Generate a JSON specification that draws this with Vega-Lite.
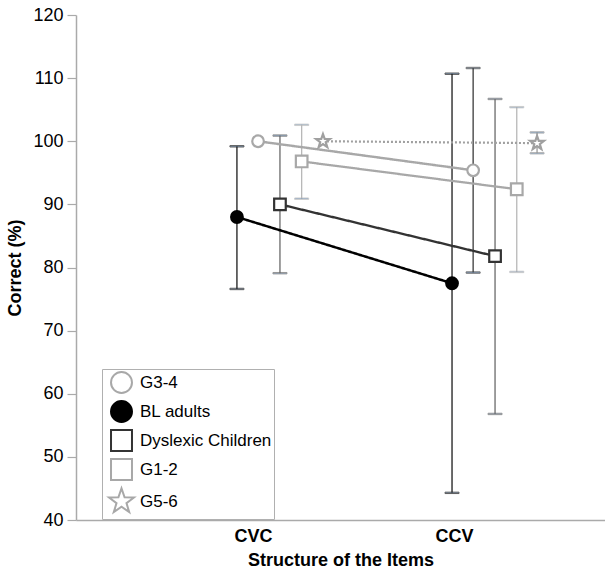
{
  "$schema": "https://vega.github.io/schema/vega-lite/v6.json",
  "width": 529,
  "height": 505,
  "autosize": {"type": "none"},
  "padding": {"left": 76, "top": 15, "right": 0, "bottom": 49},
  "background": "white",
  "config": {
    "font": "Liberation Sans",
    "view": {"stroke": null}
  },
  "data": {
    "values": [
      {"series": "BL adults", "structure": "CVC", "pos": 0.920, "mean": 88.0, "lo": 76.6, "hi": 99.2},
      {"series": "BL adults", "structure": "CCV", "pos": 1.990, "mean": 77.5, "lo": 44.3, "hi": 110.7},
      {"series": "G3-4", "structure": "CVC", "pos": 1.025, "mean": 100.0, "lo": null, "hi": null},
      {"series": "G3-4", "structure": "CCV", "pos": 2.095, "mean": 95.4, "lo": 79.2, "hi": 111.6},
      {"series": "Dyslexic Children", "structure": "CVC", "pos": 1.134, "mean": 90.0, "lo": 79.1, "hi": 100.9},
      {"series": "Dyslexic Children", "structure": "CCV", "pos": 2.204, "mean": 81.8, "lo": 56.8, "hi": 106.7},
      {"series": "G1-2", "structure": "CVC", "pos": 1.242, "mean": 96.8, "lo": 90.9, "hi": 102.6},
      {"series": "G1-2", "structure": "CCV", "pos": 2.312, "mean": 92.4, "lo": 79.3, "hi": 105.4},
      {"series": "G5-6", "structure": "CVC", "pos": 1.348, "mean": 100.0, "lo": null, "hi": null},
      {"series": "G5-6", "structure": "CCV", "pos": 2.413, "mean": 99.7, "lo": 98.1, "hi": 101.4}
    ]
  },
  "layer": [
    {
      "mark": {"type": "rule", "strokeWidth": 1.3},
      "encoding": {
        "x": {
          "field": "pos", "type": "quantitative",
          "scale": {"domain": [0.1194, 2.751], "nice": false, "zero": false},
          "axis": {
            "values": [1, 2],
            "labelExpr": "datum.value === 1 ? 'CVC' : 'CCV'",
            "ticks": false,
            "grid": false,
            "domainColor": "#aaaaaa",
            "domainWidth": 1.5,
            "labelFont": "Liberation Sans",
            "labelFontSize": 18,
            "labelFontWeight": "bold",
            "labelColor": "#000000",
            "labelPadding": 7,
            "title": "Structure of the Items",
            "titleFont": "Liberation Sans",
            "titleFontSize": 18,
            "titleFontWeight": "bold",
            "titleColor": "#000000",
            "titlePadding": 6
          }
        },
        "y": {
          "field": "lo", "type": "quantitative",
          "scale": {"domain": [40, 120], "nice": false, "zero": false},
          "axis": {
            "values": [40, 45, 50, 55, 60, 65, 70, 75, 80, 85, 90, 95, 100, 105, 110, 115, 120],
            "labelExpr": "datum.value % 10 === 0 ? datum.label : ''",
            "grid": false,
            "domainColor": "#aaaaaa",
            "domainWidth": 1.5,
            "tickColor": "#aaaaaa",
            "tickWidth": 1.2,
            "tickSize": 9,
            "labelFont": "Liberation Sans",
            "labelFontSize": 18,
            "labelColor": "#000000",
            "labelPadding": 4,
            "title": "Correct (%)",
            "titleFont": "Liberation Sans",
            "titleFontSize": 18,
            "titleFontWeight": "bold",
            "titleColor": "#000000",
            "titlePadding": 8,
            "encode": {
              "ticks": {"x2": {"value": {"expr": "datum.value % 10 === 0 ? -9 : -5"}}}
            },
            "encoding": {
              "ticks": {"x2": {"value": {"expr": "datum.value % 10 === 0 ? -9 : -5"}}}
            }
          }
        },
        "y2": {"field": "hi"},
        "stroke": {
          "field": "series", "type": "nominal",
          "scale": {
            "domain": ["BL adults", "G3-4", "Dyslexic Children", "G1-2", "G5-6"],
            "range": ["#1a1a1a", "#3a3a3a", "#6a6a6a", "#b8b8b8", "#9a9a9a"]
          },
          "legend": null
        }
      }
    },
    {
      "mark": {"type": "tick", "orient": "horizontal", "thickness": 1.4, "size": 14},
      "encoding": {
        "x": {"field": "pos", "type": "quantitative"},
        "y": {"field": "hi", "type": "quantitative"},
        "stroke": {"field": "series", "type": "nominal", "legend": null}
      }
    },
    {
      "mark": {"type": "tick", "orient": "horizontal", "thickness": 1.4, "size": 14},
      "encoding": {
        "x": {"field": "pos", "type": "quantitative"},
        "y": {"field": "lo", "type": "quantitative"},
        "stroke": {"field": "series", "type": "nominal", "legend": null}
      }
    },
    {
      "mark": {"type": "line"},
      "encoding": {
        "x": {"field": "pos", "type": "quantitative"},
        "y": {"field": "mean", "type": "quantitative"},
        "detail": {"field": "series", "type": "nominal"},
        "color": {
          "field": "series", "type": "nominal",
          "scale": {
            "domain": ["BL adults", "G3-4", "Dyslexic Children", "G1-2", "G5-6"],
            "range": ["#000000", "#a8a8a8", "#333333", "#a8a8a8", "#a0a0a0"]
          },
          "legend": null
        },
        "strokeDash": {
          "field": "series", "type": "nominal",
          "scale": {
            "domain": ["BL adults", "G3-4", "Dyslexic Children", "G1-2", "G5-6"],
            "range": [[1, 0], [1, 0], [1, 0], [1, 0], [2, 2]]
          },
          "legend": null
        },
        "strokeWidth": {
          "field": "series", "type": "nominal",
          "scale": {
            "domain": ["BL adults", "G3-4", "Dyslexic Children", "G1-2", "G5-6"],
            "range": [2.5, 2.2, 2.5, 2.2, 1.8]
          },
          "legend": null
        }
      }
    },
    {
      "mark": {"type": "point", "filled": false, "size": 135, "strokeWidth": 2.2, "opacity": 1},
      "encoding": {
        "x": {"field": "pos", "type": "quantitative"},
        "y": {"field": "mean", "type": "quantitative"},
        "color": {"field": "series", "type": "nominal", "legend": null},
        "fill": {
          "field": "series", "type": "nominal",
          "scale": {
            "domain": ["BL adults", "G3-4", "Dyslexic Children", "G1-2", "G5-6"],
            "range": ["#000000", "#ffffff", "#ffffff", "#ffffff", "#ffffff"]
          },
          "legend": null
        },
        "shape": {
          "field": "series", "type": "nominal",
          "scale": {
            "domain": ["G3-4", "BL adults", "Dyslexic Children", "G1-2", "G5-6"],
            "range": ["circle", "circle", "square", "square", "M0,-1.25L0.2939,-0.4045L1.1888,-0.3863L0.4755,0.1545L0.7347,1.0112L0,0.5L-0.7347,1.0112L-0.4755,0.1545L-1.1888,-0.3863L-0.2939,-0.4045Z"]
          },
          "legend": {
            "orient": "none",
            "legendX": 26,
            "legendY": 354,
            "title": null,
            "padding": 2,
            "symbolOffset": 6,
            "rowPadding": 0,
            "symbolSize": 440,
            "symbolStrokeWidth": 2,
            "symbolStrokeColor": "#a8a8a8",
            "symbolFillColor": "#ffffff",
            "labelFont": "Liberation Sans",
            "labelFontSize": 17,
            "labelColor": "#000000",
            "labelOffset": 7,
            "labelExpr": "datum.label + '\u00a0\u00a0\u00a0\u00a0\u00a0'",
            "strokeColor": "#b0b0b0",
            "fillColor": "#ffffff",
            "encode": {
              "symbols": {
                "shape": {"value": {"expr": "datum.value === 'G3-4' || datum.value === 'BL adults' ? 'M-1,0H-0.42M0.42,0H1M0.42,0A0.42,0.42,0,1,1,-0.42,0A0.42,0.42,0,1,1,0.42,0Z' : datum.value === 'G5-6' ? 'M-1,0H-0.9M-0.8,0H-0.7M-0.6,0H-0.5M0.5,0H0.6M0.7,0H0.8M0.9,0H1M0,-0.5L0.1176,-0.1618L0.4755,-0.1545L0.1902,0.0618L0.2939,0.4045L0,0.2L-0.2939,0.4045L-0.1902,0.0618L-0.4755,-0.1545L-0.1176,-0.1618Z' : 'M-1,0H-0.42M0.42,0H1M-0.42,-0.42H0.42V0.42H-0.42Z'"}},
                "stroke": {"value": {"expr": "datum.value === 'BL adults' ? '#000000' : datum.value === 'Dyslexic Children' ? '#333333' : '#a8a8a8'"}},
                "fill": {"value": {"expr": "datum.value === 'BL adults' ? '#000000' : '#ffffff'"}},
                "size": {"value": 440},
                "strokeWidth": {"value": 2},
                "opacity": {"value": 1}
              }
            },
            "encoding": {
              "symbols": {
                "shape": {"value": {"expr": "datum.value === 'G3-4' || datum.value === 'BL adults' ? 'M-1,0H-0.42M0.42,0H1M0.42,0A0.42,0.42,0,1,1,-0.42,0A0.42,0.42,0,1,1,0.42,0Z' : datum.value === 'G5-6' ? 'M-1,0H-0.9M-0.8,0H-0.7M-0.6,0H-0.5M0.5,0H0.6M0.7,0H0.8M0.9,0H1M0,-0.5L0.1176,-0.1618L0.4755,-0.1545L0.1902,0.0618L0.2939,0.4045L0,0.2L-0.2939,0.4045L-0.1902,0.0618L-0.4755,-0.1545L-0.1176,-0.1618Z' : 'M-1,0H-0.42M0.42,0H1M-0.42,-0.42H0.42V0.42H-0.42Z'"}},
                "stroke": {"value": {"expr": "datum.value === 'BL adults' ? '#000000' : datum.value === 'Dyslexic Children' ? '#333333' : '#a8a8a8'"}},
                "fill": {"value": {"expr": "datum.value === 'BL adults' ? '#000000' : '#ffffff'"}},
                "size": {"value": 440},
                "strokeWidth": {"value": 2},
                "opacity": {"value": 1}
              }
            }
          }
        }
      }
    }
  ]
}
